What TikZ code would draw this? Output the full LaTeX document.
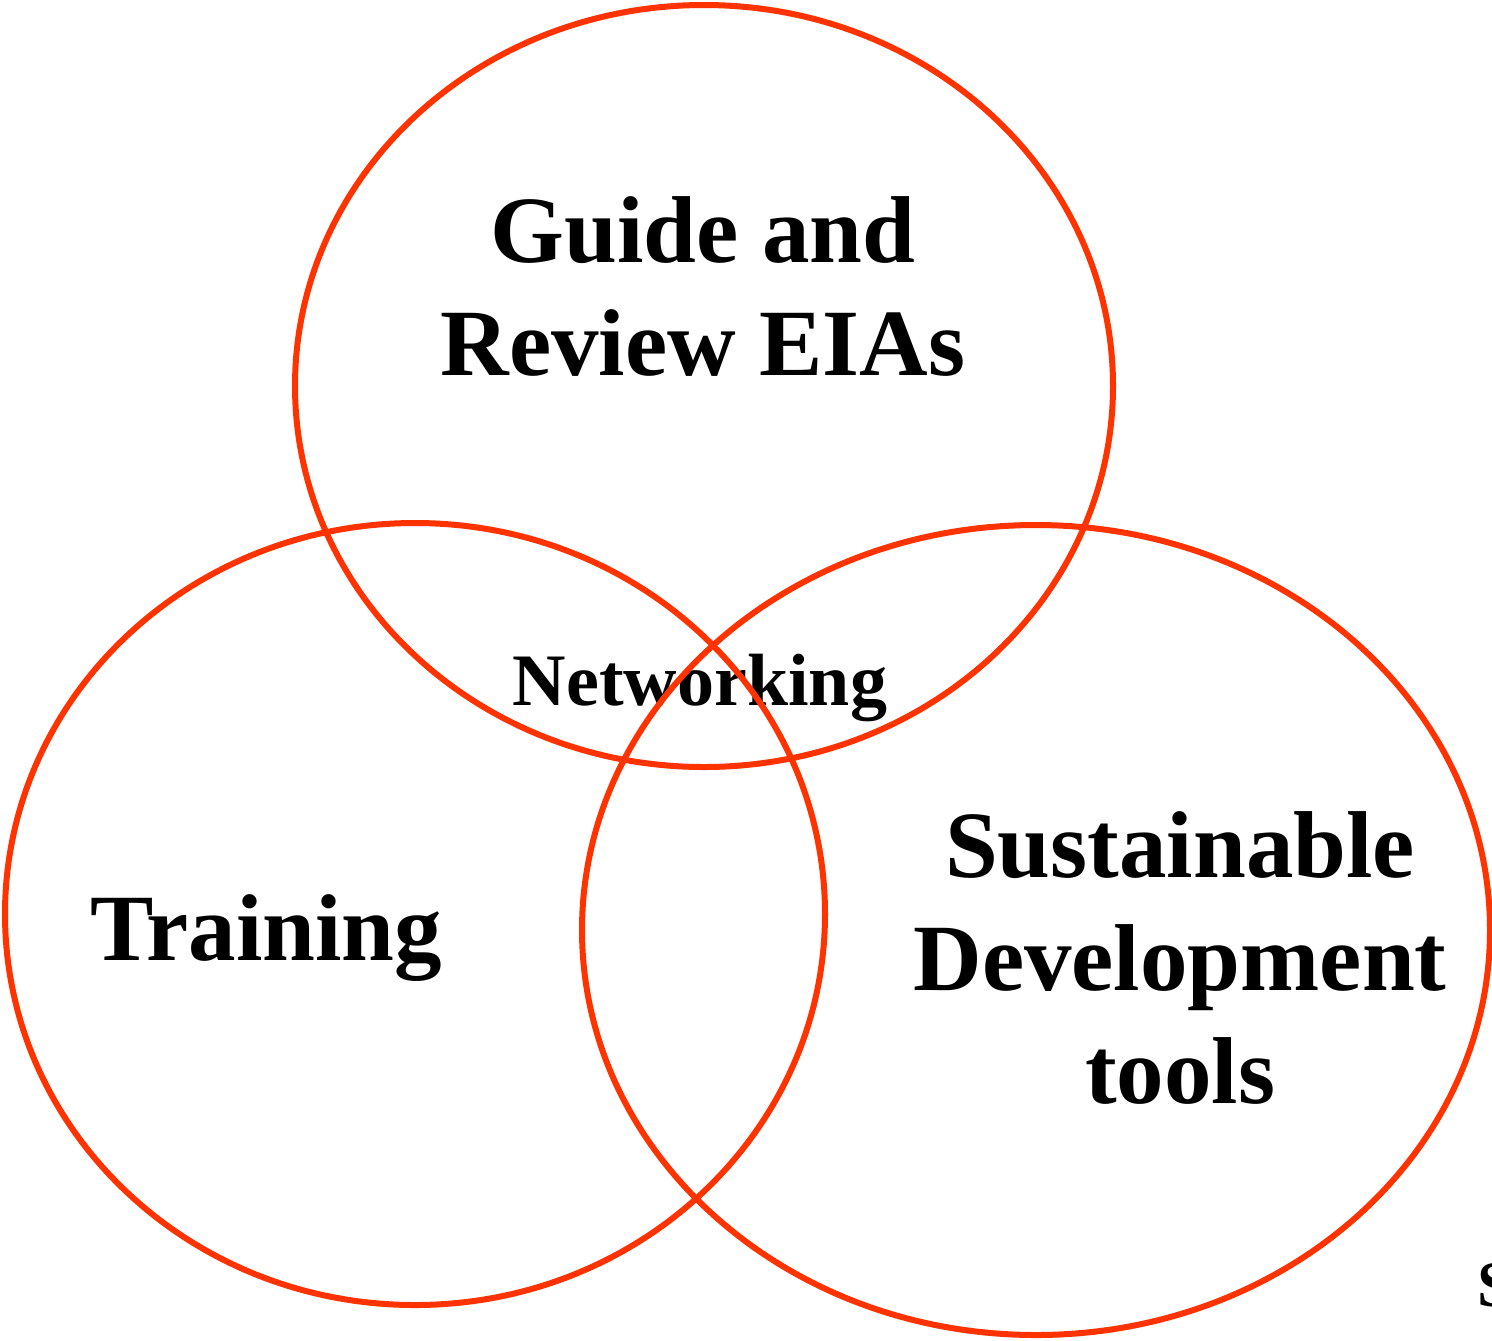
\documentclass[tikz,border=0pt]{standalone}
\usepackage{fontspec}
\setmainfont{Liberation Serif}
\definecolor{ringred}{HTML}{FF3300}
\tikzset{
  ring/.style={draw=ringred, line width=3pt},
  bigtext/.style={font=\fontsize{47.5}{56.5}\selectfont\bfseries, align=center, anchor=base, inner sep=0pt},
  midtext/.style={font=\fontsize{37}{44}\selectfont\bfseries, anchor=base, inner sep=0pt}
}
\begin{document}
\begin{tikzpicture}[x=0.5pt,y=-0.5pt]
 \useasboundingbox (0,0) rectangle (1492,1340);

 % labels (base = last line)
 \node[bigtext] (guide) at (703,375) {Guide and\\Review EIAs};
 \node[midtext] (net) at (700,705) {Networking};
 \node[bigtext] (train) at (266,960) {Training};
 \node[bigtext] (sust) at (1180,1103) {Sustainable\\Development\\tools};
 \node[font=\fontsize{32.5}{39}\selectfont\bfseries, anchor=base west, inner sep=0pt] (src) at (1477,1306) {S};

 % the three rings
 \draw[ring] (704,386) ellipse [x radius=409, y radius=381];
 \draw[ring] (415,914) ellipse [x radius=410, y radius=391];
 \draw[ring] (1036,930) ellipse [x radius=454, y radius=405];
\end{tikzpicture}
\end{document}
